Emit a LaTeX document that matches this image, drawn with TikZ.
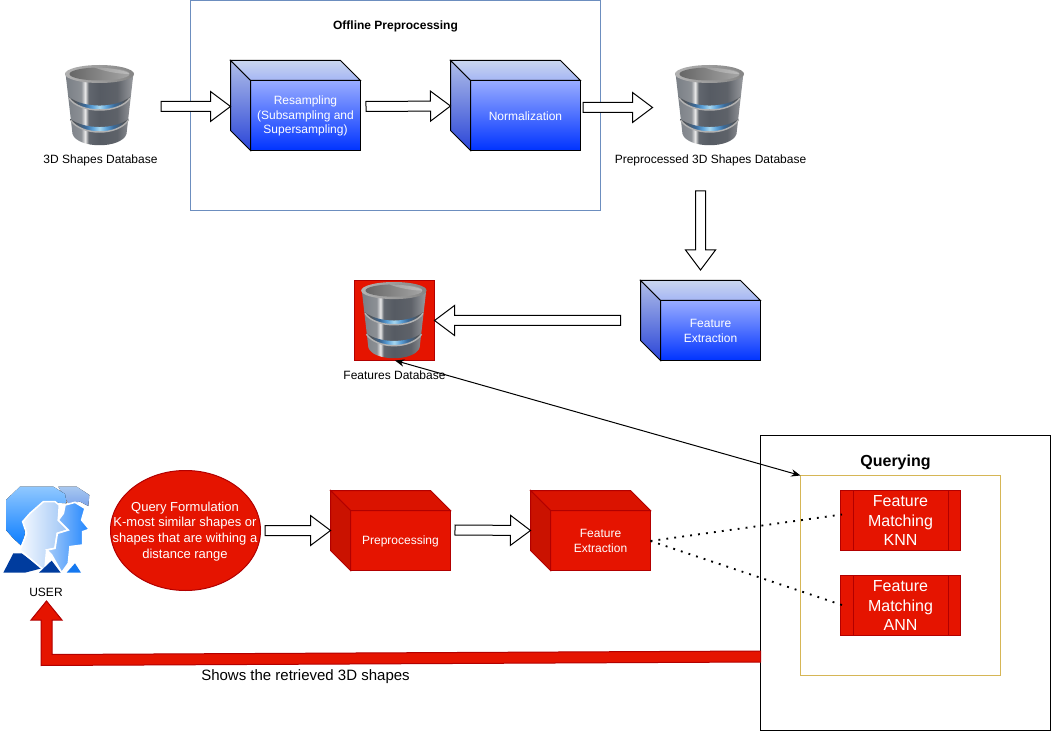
\documentclass[tikz,border=0pt]{standalone}
\usepackage{fontspec}
\setmainfont{Liberation Sans}
\usetikzlibrary{calc,arrows.meta,shapes.geometric}
\definecolor{rd}{HTML}{E51400}
\definecolor{rdl}{HTML}{B20000}
\definecolor{offl}{HTML}{6C8EBF}
\definecolor{yel}{HTML}{D6B656}
\definecolor{dba}{HTML}{7A7F85}
\definecolor{dbb}{HTML}{8C9095}
\definecolor{dbc}{HTML}{EAEAEA}
\definecolor{dbd}{HTML}{62676E}
\definecolor{dbe}{HTML}{565B63}
\definecolor{dbf}{HTML}{5E6269}
\definecolor{dbg}{HTML}{9A9CA0}
\definecolor{gla}{HTML}{50555B}
\definecolor{glb}{HTML}{3A6A9A}
\definecolor{glc}{HTML}{5AA0D8}
\definecolor{gld}{HTML}{A8D8F0}
\definecolor{navy}{HTML}{003C9E}
\definecolor{smallblue}{HTML}{1478F0}
\pgfdeclarehorizontalshading{dbbody}{100bp}{color(0bp)=(dba);color(25bp)=(dba);color(36.5bp)=(dbb);color(39.5bp)=(dbc);color(42bp)=(dbd);color(50bp)=(dbe);color(63bp)=(dbf);color(75bp)=(dbg);color(100bp)=(dbg)}
\pgfdeclarehorizontalshading{dbglow}{100bp}{color(0bp)=(gla);color(30bp)=(gla);color(38bp)=(glb);color(44bp)=(glc);color(50bp)=(gld);color(56bp)=(glc);color(62bp)=(glb);color(70bp)=(gla);color(100bp)=(gla)}
\tikzset{
  txt/.style={font=\fontsize{9}{11}\selectfont,align=center,inner sep=0pt,text=black},
  whitetxt/.style={txt,text=white},
  container/.style={draw,line width=0.75pt,minimum width=#1,inner sep=0pt,outer sep=0pt},
  blockarrow/.style={draw=black,fill=white,line width=0.75pt,line join=miter},
  bluefront/.style={draw=black,top color={rgb,255:red,153;green,172;blue,255},bottom color={rgb,255:red,0;green,51;blue,255},line width=0.75pt},
  redfront/.style={draw=rdl,fill=rd,line width=0.75pt},
  bluetop/.style={draw=black,top color={rgb,255:red,202;green,214;blue,238},bottom color={rgb,255:red,165;green,182;blue,245},line width=0.75pt},
  redtop/.style={draw=rdl,fill=rd!95!black,line width=0.75pt},
  blueleft/.style={draw=black,top color={rgb,255:red,176;green,190;blue,232},bottom color={rgb,255:red,42;green,69;blue,216},line width=0.75pt},
  redleft/.style={draw=rdl,fill=rd!88!black,line width=0.75pt},
  matchbox/.style={draw=rdl,fill=rd,line width=0.75pt,minimum width=90pt,minimum height=45pt,inner sep=0pt,outer sep=0pt,align=center,text=white,font=\fontsize{12}{14.4}\selectfont},
  dotconn/.style={line width=1.4pt,dash pattern=on 1.4pt off 4.6pt},
  dbicon/.pic={
    % body
    \path[shading=dbbody] (-34,-32) -- (-27,29) .. controls (-22,44) and (22,44) .. (27,29) -- (34,-32) -- cycle;
    % bands
    \path[shading=dbglow] (-30.5,-8) .. controls (-16,3.4) and (16,3.4) .. (30.5,-8) -- (30,-6) .. controls (20,8) and (-20,8) .. (-30,-6) -- cycle;
    \path[shading=dbglow] (-29,14) .. controls (-15,24.7) and (15,24.7) .. (29,14) -- (28.5,16) .. controls (18,30.7) and (-18,30.7) .. (-28.5,16) -- cycle;
    \draw[black!30!white,line width=1.1pt] (-30.5,-7) .. controls (-20,9) and (20,9) .. (30.5,-7);
    \draw[black!30!white,line width=1.1pt] (-29,15) .. controls (-18,31) and (18,31) .. (29,15);
    % top rim
    \path[left color=black!30!white,right color=black!48!white] (0,-31) ellipse [x radius=34.5, y radius=9];
    \path[left color=black!60!white,right color=black!35!white] (0,-31) ellipse [x radius=30, y radius=6.5];
    \path[fill=white,opacity=.25] (-5,-37.5) .. controls (12,-37.5) and (28,-34) .. (30,-31) .. controls (18,-31) and (4,-34) .. (-5,-37.5) -- cycle;
  }
}
\newcommand\cubebox[7]{%
  \node[#2front,anchor=north west,minimum width=#5*0.75pt-15pt,minimum height=#6*0.75pt-15pt,inner sep=0pt,outer sep=0pt] (#1) at (#3+20,#4+20) {};
  \path[#2top] (#1.north west) -- ++(-20,-20) -- ($(#1.north east)+(-20,-20)$) -- (#1.north east) -- cycle;
  \path[#2left] (#1.north west) -- ++(-20,-20) -- ($(#1.south west)+(-20,-20)$) -- (#1.south west) -- cycle;
  \node[whitetxt] (#1-text) at ($(#1.center)+(0,0.6)$) {#7};
}
% block arrow: start coordinate, tip coordinate
\newcommand\blockconn[2]{%
  \coordinate (hb) at ($(#2)!15pt!(#1)$);
  \path[blockarrow] ($(#1)!3.75pt!90:(#2)$) -- ($(hb)!3.75pt!-90:(#1)$) -- ($(hb)!11.25pt!-90:(#1)$) -- (#2) -- ($(hb)!11.25pt!90:(#1)$) -- ($(hb)!3.75pt!90:(#1)$) -- ($(#1)!3.75pt!-90:(#2)$) -- cycle;
}
\begin{document}
\begin{tikzpicture}[x=0.75pt,y=-0.75pt]
\useasboundingbox (0,0) rectangle (1051,731);
\fill[white] (0,0) rectangle (1051,731);
% containers
\node[container=307.5pt,minimum height=157.5pt,anchor=north west,draw=offl] (offline) at (190.5,0.5) {};
\node[container=217.5pt,minimum height=221.25pt,anchor=north west,draw=black] (querying) at (760.5,435.5) {};
\node[container=150pt,minimum height=150pt,anchor=north west,draw=yel] (inner) at (800.5,475.5) {};
\node[txt,font=\fontsize{9}{10.8}\selectfont\bfseries] (offlinelabel) at (395.5,26) {Offline Preprocessing};
\node[txt,font=\fontsize{12}{14.4}\selectfont\bfseries] (queryinglabel) at (895.5,462.5) {Querying};
% databases
\pic at (99.5,105) {dbicon};
\node[txt] (db1) at (100.5,160) {3D Shapes Database};
\pic at (709.5,105) {dbicon};
\node[txt] (db2) at (710.5,160) {Preprocessed 3D Shapes Database};
\node[draw=rdl,fill=rd,line width=0.75pt,minimum width=60pt,minimum height=60pt,inner sep=0pt,outer sep=0pt] (db3) at (394.5,320.5) {};
\pic[scale=.95] at (394,320) {dbicon};
\node[txt] (db3label) at (394.5,375) {Features Database};
% cubes
\cubebox{res}{blue}{230.5}{60.5}{130}{90}{Resampling\\(Subsampling and\\Supersampling)}
\cubebox{norm}{blue}{450.5}{60.5}{130}{90}{Normalization}
\cubebox{fe}{blue}{640.5}{280.5}{120}{80}{Feature\\Extraction}
\cubebox{pre}{red}{330.5}{490.5}{120}{80}{Preprocessing}
\cubebox{fer}{red}{530.5}{490.5}{120}{80}{Feature\\Extraction}
% block arrows
\coordinate (a1s) at (161,106.5); \coordinate (a1e) at (230.5,106.5);
\coordinate (a2s) at (366,106.5); \coordinate (a2e) at (450.5,106);
\coordinate (a3s) at (583,107.5); \coordinate (a3e) at (652.5,107.5);
\coordinate (a4s) at (700.5,191); \coordinate (a4e) at (700.5,270);
\coordinate (a5s) at (620.5,320.5); \coordinate (a5e) at (db3.east);
\coordinate (a6s) at (265,530.5); \coordinate (a6e) at (330.5,530.5);
\coordinate (a7s) at (455,530); \coordinate (a7e) at (530.5,530.5);
\blockconn{a1s}{a1e}
\blockconn{a2s}{a2e}
\blockconn{a3s}{a3e}
\blockconn{a4s}{a4e}
\blockconn{a5s}{a5e}
\blockconn{a6s}{a6e}
\blockconn{a7s}{a7e}
% query formulation
\node[draw=rdl,fill=rd,line width=0.75pt,ellipse,minimum width=112.5pt,minimum height=90pt,inner sep=0pt,outer sep=0pt] (qf) at (185.5,530.5) {};
\node[whitetxt,font=\fontsize{9.75}{11.85}\selectfont] (qftext) at (185,531.5) {Query Formulation\\K-most similar shapes or\\shapes that are withing a\\distance range};
% feature matching
\node[matchbox] (knn) at (900.5,520.5) {Feature\\Matching\\KNN};
\draw[rdl,line width=0.75pt] ($(knn.north west)+(12.5,0)$) -- ($(knn.south west)+(12.5,0)$) ($(knn.north east)+(-12,0)$) -- ($(knn.south east)+(-12,0)$);
\node[matchbox] (ann) at (900.5,605.5) {Feature\\Matching\\ANN};
\draw[rdl,line width=0.75pt] ($(ann.north west)+(12.5,0)$) -- ($(ann.south west)+(12.5,0)$) ($(ann.north east)+(-12,0)$) -- ($(ann.south east)+(-12,0)$);
% connectors
\coordinate (dbtip) at (395,360.5);
\coordinate (qtip) at (800.5,475.5);
\draw[{Stealth[length=7pt,width=5.5pt]}-{Stealth[length=7pt,width=5.5pt]},line width=0.75pt] (dbtip) -- (qtip);
\coordinate (fright) at (650.5,541);
\coordinate (knnin) at (842,514.5);
\coordinate (annin) at (842,605);
\draw[dotconn] (fright) -- (knnin);
\draw[dotconn] (fright) -- (annin);
% user
\begin{scope}[x=0.25pt,y=-0.25pt,shift={(0pt,-352.5pt)}]
\fill[top color={rgb,255:red,168;green,200;blue,240},bottom color={rgb,255:red,125;green,165;blue,235}] (175,50) -- (230,50) -- (268,75) -- (265,108) -- (240,95) -- (205,100) -- cycle;
\fill[top color={rgb,255:red,144;green,200;blue,255},bottom color={rgb,255:red,10;green,124;blue,255}] (60,50) -- (160,50) -- (195,72) -- (200,100) -- (130,95) -- (70,150) -- (75,190) -- (65,228) -- (40,205) -- (18,180) -- (18,90) -- cycle;
\fill[navy] (10,308) -- (40,250) -- (65,250) -- (125,295) -- (75,308) -- cycle;
\draw[white,line width=1.2pt,left color={rgb,255:red,245;green,249;blue,255},right color={rgb,255:red,156;green,196;blue,245}] (130,95) -- (165,95) -- (178,105) -- (175,150) -- (205,180) -- (172,190) -- (165,235) -- (140,240) -- (135,295) -- (125,295) -- (60,240) -- (80,190) -- (68,155) -- (90,130) -- cycle;
\draw[white,line width=1.2pt,left color={rgb,255:red,168;green,204;blue,248},right color={rgb,255:red,31;green,133;blue,255}] (195,105) -- (225,97) -- (255,115) -- (245,150) -- (268,178) -- (248,185) -- (248,225) -- (210,230) -- (205,280) -- (185,308) -- (155,255) -- (140,240) -- (165,235) -- (172,190) -- (205,180) -- (175,150) -- (190,130) -- cycle;
\fill[navy] (117,308) -- (155,272) -- (182,308) -- cycle;
\fill[smallblue] (200,308) -- (225,280) -- (243,308) -- cycle;
\end{scope}
\node[txt] (userlabel) at (46,592.5) {USER};
% return arrow
\path[draw=rdl,fill=rd,line width=0.75pt] (760.5,651) -- (52,654.5) -- (52,620) -- (62,620) -- (46.5,601) -- (31,620) -- (41,620) -- (41,665.5) -- (760.5,662) -- cycle;
\node[txt,font=\fontsize{11.25}{13.5}\selectfont] (retlabel) at (305.5,677) {Shows the retrieved 3D shapes};
\end{tikzpicture}
\end{document}
